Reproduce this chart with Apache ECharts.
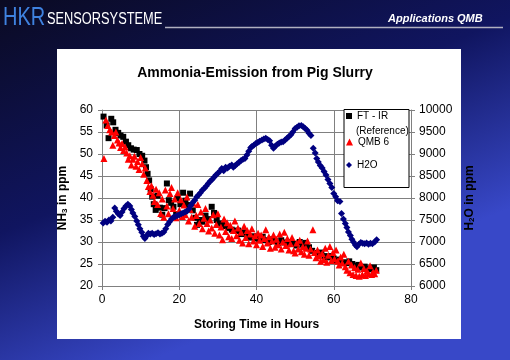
<!DOCTYPE html>
<html><head><meta charset="utf-8">
<script src="https://cdn.jsdelivr.net/npm/echarts@6/dist/echarts.min.js"></script>
<style>html,body{margin:0;padding:0;background:#0b0b26}#c{width:510px;height:360px}</style>
</head><body><div id="c"></div>
<script>
var xTicks = [0, 20, 40, 60, 80];
var nh3Ticks = [20, 25, 30, 35, 40, 45, 50, 55, 60];
var h2oTicks = [6000, 6500, 7000, 7500, 8000, 8500, 9000, 9500, 10000];
var seriesNames = ['FT - IR', 'QMB 6', 'H2O'];

var ftir = [[0.4,58.5],[1.2,56.5],[1.7,53.6],[2.4,58.0],[2.9,57.2],[3.5,55.5],[4.2,54.8],[4.8,54.2],[5.5,53.9],[6.2,52.8],[6.8,52.0],[7.5,51.3],[8.2,51.0],[9.0,50.9],[9.7,50.0],[10.4,49.6],[11.0,48.5],[11.4,47.0],[11.8,45.5],[12.2,44.0],[12.6,42.0],[13.0,40.3],[13.4,38.6],[13.9,37.3],[14.4,40.5],[15.0,37.8],[15.6,36.2],[16.2,37.7],[16.8,43.3],[17.3,39.5],[17.9,38.9],[18.5,38.0],[19.2,36.3],[19.6,40.0],[20.3,38.6],[21.0,41.2],[21.6,39.4],[22.2,38.4],[22.8,41.0],[23.5,37.2],[24.2,35.5],[24.6,33.9],[25.3,35.0],[26.0,34.6],[26.8,36.0],[27.5,35.2],[28.4,38.0],[29.0,36.6],[29.7,35.0],[30.4,34.2],[31.2,34.0],[32.0,33.6],[32.8,33.2],[33.6,32.8],[34.4,32.5],[35.2,32.6],[36.0,31.8],[36.8,32.2],[37.6,31.4],[38.4,31.0],[39.2,31.3],[40.0,30.8],[40.8,30.5],[41.6,31.2],[42.4,30.4],[43.2,30.0],[44.0,30.6],[44.8,30.2],[45.6,29.8],[46.4,30.4],[47.2,29.9],[48.0,29.5],[48.8,30.0],[49.6,29.6],[50.4,29.2],[51.2,30.0],[52.0,29.4],[52.8,29.8],[53.6,28.8],[54.4,28.0],[55.2,27.5],[56.0,27.2],[56.8,27.6],[57.6,26.8],[58.4,26.5],[59.2,26.8],[60.0,26.2],[60.8,25.8],[61.6,26.0],[62.4,25.4],[63.2,25.2],[64.0,25.6],[64.8,25.0],[65.6,24.6],[66.4,24.8],[67.2,24.2],[68.0,24.4],[68.8,24.0],[69.6,23.8],[70.4,24.2],[71.0,23.6]];

var qmb6 = [[0.5,49.0],[1.0,57.7],[1.5,56.5],[2.0,55.5],[2.5,55.0],[2.8,52.0],[3.2,54.2],[3.6,55.0],[4.0,53.2],[4.4,52.5],[4.8,51.5],[5.2,52.4],[5.6,50.8],[6.0,51.6],[6.4,50.2],[6.8,48.8],[7.2,49.6],[7.6,47.5],[8.0,48.8],[8.4,49.5],[8.8,47.2],[9.2,48.3],[9.6,46.5],[10.0,49.2],[10.4,47.8],[10.8,45.4],[11.2,46.8],[11.6,44.0],[12.0,42.6],[12.4,41.5],[12.8,42.8],[13.2,40.6],[13.6,39.2],[14.0,42.0],[14.4,38.5],[14.8,41.2],[15.2,36.5],[15.6,39.8],[16.0,35.6],[16.4,41.8],[16.8,38.2],[17.2,36.4],[17.6,41.0],[18.0,42.4],[18.4,37.6],[18.8,39.8],[19.2,35.5],[19.6,41.2],[20.0,37.2],[20.4,39.6],[20.8,35.8],[21.2,38.4],[21.6,36.2],[22.0,40.2],[22.4,34.8],[22.8,37.4],[23.2,35.6],[23.6,38.8],[24.0,33.6],[24.4,36.0],[24.8,38.5],[25.2,34.2],[25.6,36.8],[26.0,33.0],[26.4,35.4],[26.8,37.6],[27.2,34.2],[27.6,32.5],[28.0,35.0],[28.4,33.2],[28.8,36.2],[29.2,32.0],[29.6,34.0],[30.0,36.4],[30.4,31.6],[30.8,33.4],[31.2,30.5],[31.6,35.2],[32.0,32.4],[32.4,34.4],[32.8,31.2],[33.2,33.8],[33.6,30.8],[34.0,32.6],[34.4,34.8],[34.8,31.4],[35.2,33.2],[35.6,30.4],[36.0,32.2],[36.4,29.8],[36.8,33.6],[37.2,31.0],[37.6,32.6],[38.0,29.6],[38.4,31.8],[38.8,33.0],[39.2,30.2],[39.6,31.4],[40.0,29.4],[40.4,32.0],[40.8,30.4],[41.2,31.6],[41.6,29.0],[42.0,30.8],[42.4,32.8],[42.8,29.8],[43.2,31.2],[43.6,28.6],[44.0,30.2],[44.4,31.6],[44.8,28.8],[45.2,30.6],[45.6,29.4],[46.0,31.8],[46.4,28.4],[46.8,30.0],[47.2,32.2],[47.6,29.2],[48.0,30.8],[48.4,28.2],[48.8,29.6],[49.2,31.0],[49.6,28.0],[50.0,27.5],[50.4,29.8],[50.8,28.4],[51.2,30.4],[51.6,27.8],[52.0,29.0],[52.4,27.2],[52.8,28.6],[53.2,30.2],[53.6,27.0],[54.0,28.4],[54.6,32.8],[55.0,27.6],[55.4,26.4],[55.8,28.2],[56.2,26.8],[56.6,25.6],[57.0,27.4],[57.4,26.0],[57.8,28.6],[58.2,25.4],[58.6,27.0],[59.0,29.0],[59.4,25.8],[59.8,27.6],[60.2,26.2],[60.6,28.2],[61.0,25.6],[61.4,24.8],[61.8,26.6],[62.2,25.2],[62.6,27.2],[63.0,24.4],[63.4,23.6],[63.8,25.6],[64.2,23.0],[64.6,24.8],[65.0,22.6],[65.4,24.2],[65.8,22.4],[66.2,23.8],[66.6,22.2],[67.0,25.2],[67.4,22.6],[67.8,24.0],[68.2,22.4],[68.6,23.4],[69.0,22.8],[69.4,24.6],[69.8,22.6],[70.2,23.2],[70.6,22.8],[71.0,23.6]];

var h2o = [[0.3,7430],[0.8,7470],[1.3,7450],[1.8,7500],[2.3,7480],[2.8,7560],[3.3,7770],[3.7,7700],[4.2,7640],[4.7,7600],[5.2,7680],[5.7,7760],[6.2,7820],[6.7,7860],[7.2,7820],[7.6,7740],[8.0,7660],[8.5,7580],[9.0,7480],[9.4,7390],[9.8,7300],[10.3,7220],[10.7,7130],[11.1,7080],[11.6,7140],[12.0,7200],[12.5,7180],[13.0,7200],[13.5,7170],[14.0,7190],[14.5,7210],[15.0,7180],[15.5,7200],[16.0,7230],[16.5,7300],[17.0,7400],[17.5,7460],[18.0,7520],[18.5,7560],[19.0,7580],[19.5,7600],[20.0,7620],[20.5,7640],[21.0,7660],[21.5,7680],[22.0,7700],[22.5,7750],[23.0,7830],[23.5,7900],[24.0,7950],[24.5,8020],[25.0,8070],[25.5,8120],[26.0,8180],[26.5,8220],[27.0,8270],[27.5,8330],[28.0,8380],[28.5,8420],[29.0,8470],[29.5,8520],[30.0,8560],[30.5,8610],[31.0,8670],[31.5,8620],[32.0,8700],[32.5,8680],[33.0,8720],[33.6,8750],[34.0,8700],[34.5,8740],[35.0,8780],[35.5,8810],[36.0,8850],[36.5,8880],[37.0,8900],[37.5,8980],[38.0,9060],[38.5,9140],[38.8,9170],[39.3,9200],[39.8,9240],[40.3,9260],[40.8,9290],[41.4,9320],[41.9,9340],[42.4,9360],[42.9,9330],[43.4,9300],[43.9,9200],[44.4,9130],[44.9,9180],[45.4,9220],[45.9,9250],[46.4,9270],[46.9,9280],[47.4,9320],[47.9,9360],[48.4,9400],[48.9,9440],[49.4,9500],[50.0,9580],[50.5,9610],[51.0,9640],[51.6,9650],[52.1,9620],[52.6,9580],[53.1,9540],[53.6,9470],[54.1,9420],[54.7,9130],[55.2,9020],[55.6,8900],[56.0,8820],[56.5,8740],[57.0,8680],[57.5,8600],[58.0,8520],[58.5,8420],[59.0,8330],[59.5,8240],[60.0,8100],[60.5,8030],[61.0,7940],[61.6,7920],[62.0,7650],[62.5,7520],[63.0,7420],[63.4,7330],[63.8,7230],[64.3,7150],[64.7,7060],[65.1,7000],[65.6,6930],[66.0,6890],[66.5,6950],[67.0,6990],[67.5,6970],[68.0,6960],[68.5,6980],[69.0,6950],[69.5,6970],[70.0,6960],[70.6,7000],[71.1,7050]];

var FONT = "Arial, 'Liberation Sans', sans-serif";
var chart = echarts.init(document.getElementById('c'), null, {renderer: 'canvas'});
function legendAt(name, top, size) {
  return {data: [name], left: 346, top: top, orient: 'vertical', padding: 0,
    itemWidth: size, itemHeight: size, itemGap: 5, selectedMode: false,
    textStyle: {fontFamily: FONT, fontSize: 10, color: '#000'}};
}
chart.setOption({
  animation: false,
  backgroundColor: '#0b0b26',
  textStyle: {fontFamily: FONT},
  title: {text: 'Ammonia-Emission from Pig Slurry', left: 'center', top: 61,
    textStyle: {fontFamily: FONT, fontSize: 14, fontWeight: 'bold', color: '#000'}},
  graphic: [
    {type: 'rect', z: -20, shape: {x: 0, y: 0, width: 510, height: 360},
      style: {fill: new echarts.graphic.LinearGradient(0, 0, 0.3, 1, [
        {offset: 0, color: '#0a0a22'}, {offset: 0.55, color: '#101560'}, {offset: 1, color: '#3848c8'}])}},
    {type: 'rect', z: -19, shape: {x: 57, y: 49, width: 404, height: 290}, style: {fill: '#ffffff'}},
    {type: 'text', z: 5, left: 3, top: 6, scaleX: 0.8,
      style: {text: 'HKR', fill: '#3f82e0', font: "25px " + FONT}},
    {type: 'text', z: 5, left: 47, top: 12, scaleX: 0.8,
      style: {text: 'SENSORSYSTEME', fill: '#ffffff', font: "16px " + FONT}},
    {type: 'line', z: 5, shape: {x1: 165, y1: 27.5, x2: 503, y2: 27.5},
      style: {stroke: '#b0b0c0', lineWidth: 1.5}},
    {type: 'text', z: 5, left: 388, top: 13,
      style: {text: 'Applications QMB', fill: '#ffffff', font: "italic bold 11px " + FONT}},
    {type: 'rect', z: 3, shape: {x: 344, y: 109.5, width: 65, height: 78},
      style: {fill: '#ffffff', stroke: '#000000', lineWidth: 1}},
    {type: 'text', z: 6, left: 356, top: 126,
      style: {text: '(Reference)', fill: '#000', font: "10px " + FONT}}
  ],
  legend: [legendAt(seriesNames[0], 111, 6), legendAt(seriesNames[1], 137, 7), legendAt(seriesNames[2], 160, 6)],
  grid: {left: 102, right: 99, top: 110, bottom: 74, show: false},
  xAxis: {type: 'value', min: 0, max: 80, interval: 20,
    name: 'Storing Time in Hours', nameLocation: 'middle', nameGap: 33,
    nameTextStyle: {fontFamily: FONT, fontSize: 12, fontWeight: 'bold', color: '#000'},
    axisLine: {show: true, lineStyle: {color: '#808080'}},
    axisTick: {show: true, length: 4, lineStyle: {color: '#808080'}},
    axisLabel: {fontFamily: FONT, fontSize: 12, color: '#000', margin: 8},
    splitLine: {show: true, lineStyle: {color: '#808080', width: 1}}},
  yAxis: [
    {type: 'value', min: 20, max: 60, interval: 5, position: 'left',
      name: 'NH{s|3} in ppm', nameLocation: 'middle', nameGap: 28, nameRotate: 90,
      nameTextStyle: {fontFamily: FONT, fontSize: 12, fontWeight: 'bold', color: '#000',
        rich: {s: {fontFamily: FONT, fontSize: 8, fontWeight: 'bold', color: '#000', verticalAlign: 'bottom', padding: [5, 0, 0, 0]}}},
      axisLine: {show: true, lineStyle: {color: '#808080'}},
      axisTick: {show: true, length: 4, lineStyle: {color: '#808080'}},
      axisLabel: {fontFamily: FONT, fontSize: 12, color: '#000', margin: 9},
      splitLine: {show: true, lineStyle: {color: '#808080', width: 1}}},
    {type: 'value', min: 6000, max: 10000, interval: 500, position: 'right',
      name: 'H{s|2}O in ppm', nameLocation: 'middle', nameGap: 50, nameRotate: 90,
      nameTextStyle: {fontFamily: FONT, fontSize: 12, fontWeight: 'bold', color: '#000',
        rich: {s: {fontFamily: FONT, fontSize: 8, fontWeight: 'bold', color: '#000', verticalAlign: 'bottom', padding: [5, 0, 0, 0]}}},
      axisLine: {show: true, lineStyle: {color: '#808080'}},
      axisTick: {show: true, length: 4, lineStyle: {color: '#808080'}},
      axisLabel: {fontFamily: FONT, fontSize: 12, color: '#000', margin: 8,
        formatter: function (v) { return String(v); }},
      splitLine: {show: false}}
  ],
  series: [
    {name: seriesNames[0], type: 'scatter', yAxisIndex: 0, data: ftir,
      symbol: 'rect', symbolSize: 6, itemStyle: {color: '#000000', opacity: 1}},
    {name: seriesNames[1], type: 'scatter', yAxisIndex: 0, data: qmb6,
      symbol: 'triangle', symbolSize: 7, itemStyle: {color: '#ff0000', opacity: 1}},
    {name: seriesNames[2], type: 'scatter', yAxisIndex: 1, data: h2o,
      symbol: 'diamond', symbolSize: 7, itemStyle: {color: '#000080', opacity: 1}}
  ]
});
</script></body></html>
